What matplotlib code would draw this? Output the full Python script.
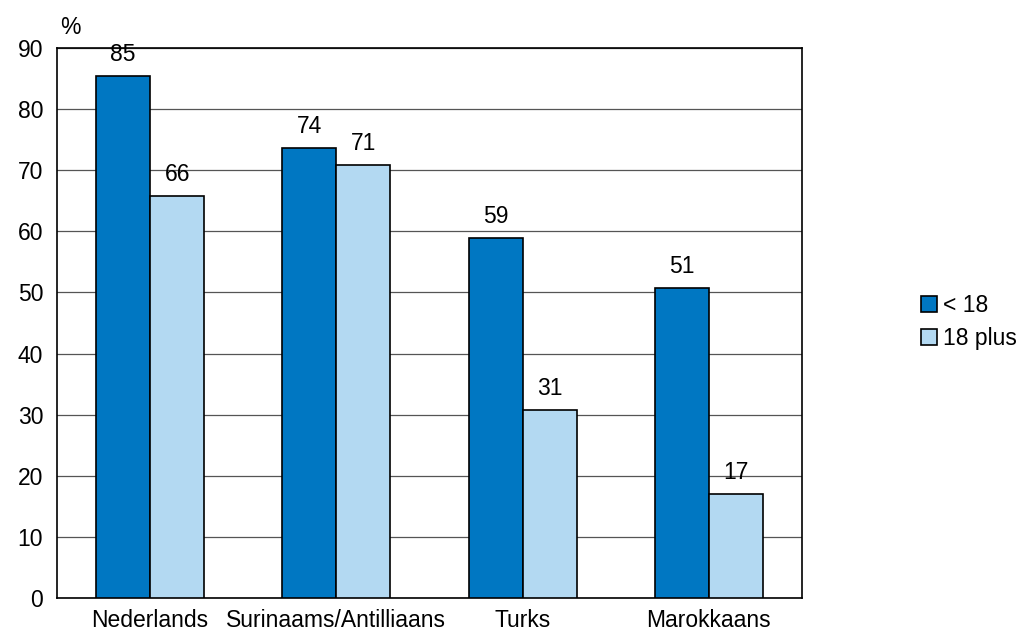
import numpy as np
import matplotlib.pyplot as plt

plt.rcParams['font.family'] = ['Liberation Sans', 'DejaVu Sans']

categories = ["Nederlands", "Surinaams/Antilliaans", "Turks", "Marokkaans"]
under18 = [85.4, 73.6, 58.9, 50.7]
plus18 = [65.8, 70.9, 30.8, 17.0]
series_names = ["< 18", "18 plus"]
yticks = [0, 10, 20, 30, 40, 50, 60, 70, 80, 90]

dark = "#0077C2"
light = "#B3D9F2"
fs = 16.5

fig = plt.figure(figsize=(10.2, 6.32), dpi=100)
ax = fig.add_axes([57 / 1020, 34 / 632, 745 / 1020, 550 / 632])

x = np.arange(len(categories))
w = 0.29
b1 = ax.bar(x - w / 2, under18, w, color=dark, edgecolor="black", linewidth=1.2, label=series_names[0], zorder=3)
b2 = ax.bar(x + w / 2, plus18, w, color=light, edgecolor="black", linewidth=1.2, label=series_names[1], zorder=3)

for bars, vals in ((b1, under18), (b2, plus18)):
    for r, v in zip(bars, vals):
        ax.text(r.get_x() + r.get_width() / 2, v + 1.6, f"{round(v):.0f}",
                ha="center", va="bottom", fontsize=fs)

ax.set_xlim(-0.5, len(categories) - 0.5)
ax.set_ylim(0, 90)
ax.set_yticks(yticks)
ax.set_xticks(x)
ax.set_xticklabels(categories)
ax.tick_params(axis="y", length=0, labelsize=fs, pad=10)
ax.tick_params(axis="x", length=0, labelsize=fs, pad=8)
ax.yaxis.grid(True, color="#555555", linewidth=0.9, zorder=0)
for s in ax.spines.values():
    s.set_color("black")
    s.set_linewidth(1.2)

fig.text(70 / 1020, 1 - 27 / 632, "%", ha="center", va="center", fontsize=fs)

fig.legend(loc="center left", bbox_to_anchor=(921 / 1020, 1 - 322 / 632), frameon=False,
           fontsize=fs, handlelength=0.7, handleheight=0.7, handletextpad=0.25, labelspacing=0.45,
           borderpad=0, borderaxespad=0)

fig.savefig("out.png", dpi=100)
